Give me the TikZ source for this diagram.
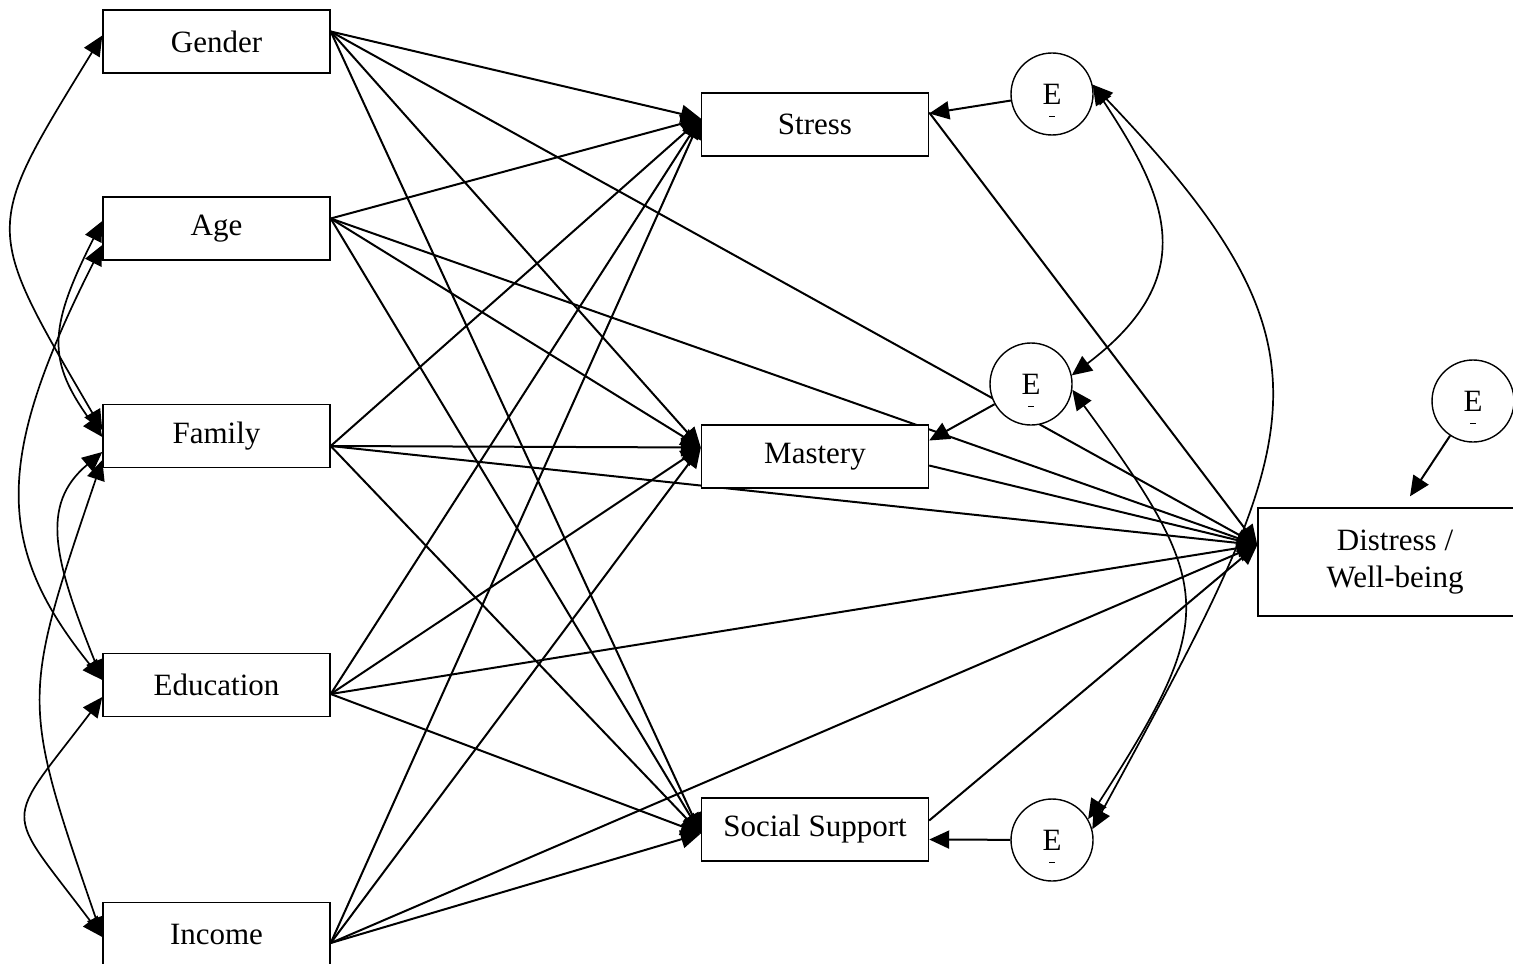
\documentclass[tikz,border=0pt]{standalone}
\usepackage{fontspec}
\setmainfont{Liberation Serif}
\usetikzlibrary{arrows.meta,backgrounds}

\begin{document}
\begin{tikzpicture}[x=0.5pt, y=-0.5pt,
  every node/.style={font=\fontsize{15.5}{18.5}\selectfont},
  var/.style={draw, line width=0.7pt, fill=white, minimum width=113.5pt, minimum height=31.5pt, inner sep=0pt},
  err/.style={draw, circle, line width=0.7pt, fill=white, minimum size=41pt, inner sep=0pt},
  reg/.style={-{Triangle[length=10pt,width=9pt]}, line width=1pt},
  cov/.style={{Triangle[length=10pt,width=9pt]}-{Triangle[length=10pt,width=9pt]}, line width=0.85pt}]
  \useasboundingbox (0,0) rectangle (1513,963);

  \node[var] (gender) at (216.5,41.5) {Gender};
  \node[var] (age) at (216.5,228.5) {Age};
  \node[var] (family) at (216.5,436) {Family};
  \node[var] (education) at (216.5,685) {Education};
  \node[var] (income) at (216.5,934) {Income};
  \node[var] (stress) at (815,124.5) {Stress};
  \node[var] (mastery) at (815,456.5) {Mastery};
  \node[var] (socsup) at (815,829.5) {Social Support};
  \node[var, minimum width=137pt, minimum height=54pt, align=center] (distress) at (1395,562) {Distress /\\Well-being};
  \node[err] (e1) at (1052,94) {E};
  \node[err] (e2) at (1031,384) {E};
  \node[err] (e3) at (1052,840) {E};
  \node[err] (e4) at (1473,401) {E};
  \draw[line width=0.5pt] ([xshift=-1.5pt,yshift=-11pt]e1.center) -- ([xshift=1.5pt,yshift=-11pt]e1.center);
  \draw[line width=0.5pt] ([xshift=-1.5pt,yshift=-11pt]e2.center) -- ([xshift=1.5pt,yshift=-11pt]e2.center);
  \draw[line width=0.5pt] ([xshift=-1.5pt,yshift=-11pt]e3.center) -- ([xshift=1.5pt,yshift=-11pt]e3.center);
  \draw[line width=0.5pt] ([xshift=-1.5pt,yshift=-11pt]e4.center) -- ([xshift=1.5pt,yshift=-11pt]e4.center);

  \begin{scope}[on background layer]
  % background variables
  \draw[reg] ([yshift=5pt]gender.east) -- ([yshift=3pt]stress.west);
  \draw[reg] ([yshift=5pt]gender.east) -- ([yshift=4.5pt]mastery.west);
  \draw[reg] ([yshift=5pt]gender.east) -- ([yshift=-2pt]socsup.west);
  \draw[reg] ([yshift=5pt]gender.east) -- ([yshift=8.5pt]distress.west);
  \draw[reg] ([yshift=5pt]age.east) -- ([yshift=3pt]stress.west);
  \draw[reg] ([yshift=5pt]age.east) -- ([yshift=4.5pt]mastery.west);
  \draw[reg] ([yshift=5pt]age.east) -- ([yshift=-2pt]socsup.west);
  \draw[reg] ([yshift=5pt]age.east) -- ([yshift=8.5pt]distress.west);
  \draw[reg] ([yshift=-5pt]family.east) -- ([yshift=3pt]stress.west);
  \draw[reg] ([yshift=-5pt]family.east) -- ([yshift=4.5pt]mastery.west);
  \draw[reg] ([yshift=-5pt]family.east) -- ([yshift=-2pt]socsup.west);
  \draw[reg] ([yshift=-5pt]family.east) -- ([yshift=8.5pt]distress.west);
  \draw[reg] ([yshift=-4.5pt]education.east) -- ([yshift=3pt]stress.west);
  \draw[reg] ([yshift=-4.5pt]education.east) -- ([yshift=4.5pt]mastery.west);
  \draw[reg] ([yshift=-4.5pt]education.east) -- ([yshift=-2pt]socsup.west);
  \draw[reg] ([yshift=-4.5pt]education.east) -- ([yshift=8.5pt]distress.west);
  \draw[reg] ([yshift=-4.5pt]income.east) -- ([yshift=3pt]stress.west);
  \draw[reg] ([yshift=-4.5pt]income.east) -- ([yshift=4.5pt]mastery.west);
  \draw[reg] ([yshift=-4.5pt]income.east) -- ([yshift=-2pt]socsup.west);
  \draw[reg] ([yshift=-4.5pt]income.east) -- ([yshift=8.5pt]distress.west);
  % mediators
  \draw[reg] ([yshift=6pt]stress.east) -- ([yshift=8.5pt]distress.west);
  \draw[reg] ([yshift=-4.5pt]mastery.east) -- ([yshift=8.5pt]distress.west);
  \draw[reg] ([yshift=4.5pt]socsup.east) -- ([yshift=8.5pt]distress.west);
  % errors
  \draw[reg] (e1) -- ([yshift=5.5pt]stress.east);
  \draw[reg] (e2) -- ([yshift=8pt]mastery.east);
  \draw[reg] (e3) -- ([yshift=-5pt]socsup.east);
  \draw[reg] (e4) -- ([xshift=7.5pt,yshift=5.5pt]distress.north);
  \draw[cov] (e1.13) .. controls +(73,111) and +(132,-100) .. (e2.12);
  \draw[cov] (e1.13) .. controls +(258,270) and +(215,-395) .. (e3.15);
  \draw[cov] (e2.-8) .. controls +(145,198) and +(130,-202) .. (e3.30);
  % correlations
  \draw[cov] ([yshift=3pt]gender.west) .. controls +(-120,196) and +(-120,-206) .. ([yshift=3pt]family.west);
  \draw[cov] ([yshift=3.75pt]age.west) .. controls +(-55,109) and +(-55,-76) .. ([yshift=-0.5pt]family.west);
  \draw[cov] ([yshift=-8.25pt]age.west) .. controls +(-108,214) and +(-108,-134) .. ([yshift=2.5pt]education.west);
  \draw[cov] ([yshift=-8pt]family.west) .. controls +(-63,53) and +(-48,-120) .. ([yshift=2.5pt]education.west);
  \draw[cov] ([yshift=-12pt]family.west) .. controls +(-81.5,240) and +(-81.5,-237) .. ([yshift=-1.5pt]income.west);
  \draw[cov] ([yshift=-6pt]education.west) .. controls +(-100,132) and +(-100,-133) .. ([yshift=-1.5pt]income.west);
  \end{scope}
\end{tikzpicture}
\end{document}
